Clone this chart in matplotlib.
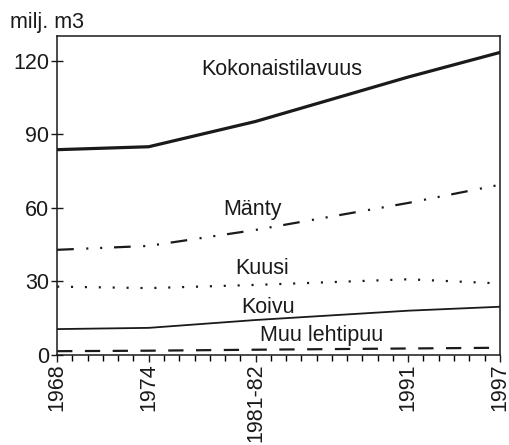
import numpy as np
import matplotlib
matplotlib.use('Agg')
import matplotlib.pyplot as plt

# years on the x axis (1981-82 survey placed at 1981)
years = [1968, 1974, 1981, 1991, 1997]
year_labels = ['1968', '1974', '1981-82', '1991', '1997']

# million m3
kokonais = [83.7, 84.9, 95.2, 113.3, 123.3]
manty = [42.9, 44.5, 51.0, 62.0, 69.4]
kuusi = [27.9, 27.3, 28.6, 30.9, 29.2]
koivu = [10.6, 11.1, 14.3, 18.1, 19.7]
muu = [1.6, 1.8, 2.2, 2.7, 3.0]

plt.rcParams['font.family'] = ['Liberation Sans', 'DejaVu Sans']
plt.rcParams['lines.scale_dashes'] = False

fig = plt.figure(figsize=(5.1, 4.45), dpi=100)
ax = fig.add_axes([0.112, 0.202, 0.868, 0.717])

ax.plot(years, kokonais, color='#1a1a1a', lw=2.3, solid_joinstyle='miter')
ax.plot(years, manty, color='#1a1a1a', lw=1.6,
        dashes=(12, 9, 1.5, 8.5, 1.5, 8.5))
ax.plot(years, kuusi, color='#1a1a1a', lw=1.6, dashes=(1.5, 8.5))
ax.plot(years, koivu, color='#1a1a1a', lw=1.3)
ax.plot(years, muu, color='#1a1a1a', lw=1.6, dashes=(11, 9))

fs = 15.5
ax.text(1982.7, 116.3, 'Kokonaistilavuus', fontsize=fs, ha='center', va='center', color='#1a1a1a')
ax.text(1980.8, 59.2, 'Mänty', fontsize=fs, ha='center', va='center', color='#1a1a1a')
ax.text(1981.4, 35.1, 'Kuusi', fontsize=fs, ha='center', va='center', color='#1a1a1a')
ax.text(1981.8, 19.6, 'Koivu', fontsize=fs, ha='center', va='center', color='#1a1a1a')
ax.text(1985.3, 7.8, 'Muu lehtipuu', fontsize=fs, ha='center', va='center', color='#1a1a1a')

fig.text(0.02, 0.95, 'milj. m3', fontsize=fs, ha='left', va='center', color='#1a1a1a')

ax.set_xlim(1968, 1997)
ax.set_ylim(0, 130)
ax.set_yticks([0, 30, 60, 90, 120])
ax.set_xticks(years)
ax.set_xticklabels(year_labels, rotation=90)
ax.set_xticks(range(1968, 1998), minor=True)

ax.tick_params(axis='y', direction='inout', length=9, width=1, labelsize=fs, pad=1, colors='#1a1a1a')
ax.tick_params(axis='x', which='major', direction='out', length=5, width=1, labelsize=fs, pad=1, colors='#1a1a1a')
ax.tick_params(axis='x', which='minor', direction='out', length=4, width=1)
for s in ax.spines.values():
    s.set_linewidth(1.1)
    s.set_color('#1a1a1a')

fig.savefig('out.png', dpi=100)
